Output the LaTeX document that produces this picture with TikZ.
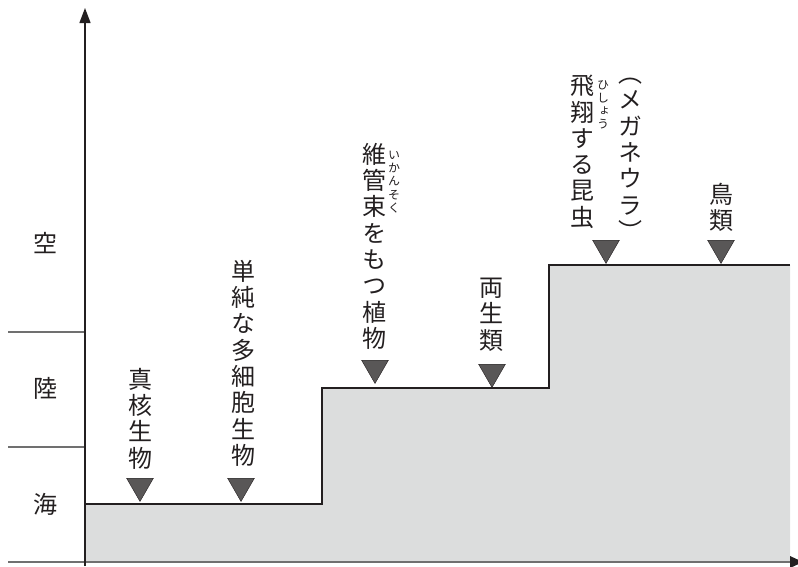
\documentclass[tikz,border=0pt]{standalone}
\usepackage{fontspec}
\newfontfamily\jp{Noto Sans CJK JP}
\newfontfamily\jpv[RawFeature=+vert]{Noto Sans CJK JP}
\usetikzlibrary{arrows.meta,shapes.geometric}
\definecolor{ink}{HTML}{231F20}
\definecolor{fillg}{HTML}{DCDDDD}
\definecolor{trig}{HTML}{595757}
\definecolor{lineg}{HTML}{707070}
\begin{document}
\begin{tikzpicture}[x=1pt,y=-1pt,
  col/.style={align=center, inner sep=0pt, text=ink, font=\jpv\fontsize{24}{26.3}\selectfont, anchor=north},
  ruby/.style={align=center, inner sep=0pt, text=ink, font=\jpv\fontsize{12}{13.2}\selectfont, anchor=north},
  lab/.style={inner sep=0pt, text=ink, font=\jp\fontsize{24}{26}\selectfont},
  tri/.style={regular polygon, regular polygon sides=3, shape border rotate=180, fill=trig, draw=ink, line width=0.4pt, inner sep=0pt, minimum size=31pt, anchor=north},
  stepline/.style={draw=ink, line width=2pt},
  divline/.style={draw=lineg, line width=1.2pt}]
\useasboundingbox (0,0) rectangle (798,566);
\clip (0,0) rectangle (798,566);
% filled step region
\fill[fillg] (85,562) -- (85,504) -- (322,504) -- (322,388) -- (549,388) -- (549,265) -- (790,265) -- (790,562) -- cycle;
\draw[stepline] (85,504) -- (322,504) -- (322,388) -- (549,388) -- (549,265) -- (790,265);
% divider lines
\draw[divline] (8,332) -- (85,332);
\draw[divline] (8,447) -- (85,447);
% axes
\coordinate (xs) at (8,562);
\coordinate (xe) at (791,562);
\coordinate (ys) at (85,566);
\coordinate (ye) at (85,8);
\draw[lineg, line width=1.5pt] (xs) -- (xe);
\fill[ink] (790,556) -- (803,562) -- (790,568) -- cycle;
\draw[ink, line width=1.3pt, -{Triangle[width=11pt,length=15pt]}] (ys) -- (ye);
% zone labels
\node[lab] (sora) at (45,243) {空};
\node[lab] (riku) at (45,388) {陸};
\node[lab] (umi) at (45,504) {海};
% columns
\node[col] (c1) at (140,368) {真\\核\\生\\物};
\node[col] (c2) at (243,260) {単\\純\\な\\多\\細\\胞\\生\\物};
\node[col] (c3) at (374,143) {維\\管\\束\\を\\も\\つ\\植\\物};
\node[ruby] (r3) at (394,151) {い\\か\\ん\\そ\\く};
\node[col] (c4) at (491,278) {両\\生\\類};
\node[col] (c5) at (582,75) {飛\\翔\\す\\る\\昆\\虫};
\node[ruby] (r5) at (603,80) {ひ\\し\\ょ\\う};
\node[col] (c6) at (630,78) {（\\メ\\ガ\\ネ\\ウ\\ラ\\）};
\node[col] (c7) at (721,183) {鳥\\類};
% triangles
\node[tri] (t1) at (140,478) {};
\node[tri] (t2) at (241,478) {};
\node[tri] (t3) at (375,360) {};
\node[tri] (t4) at (492,364) {};
\node[tri] (t5) at (606,240) {};
\node[tri] (t6) at (721,240) {};
\end{tikzpicture}
\end{document}
